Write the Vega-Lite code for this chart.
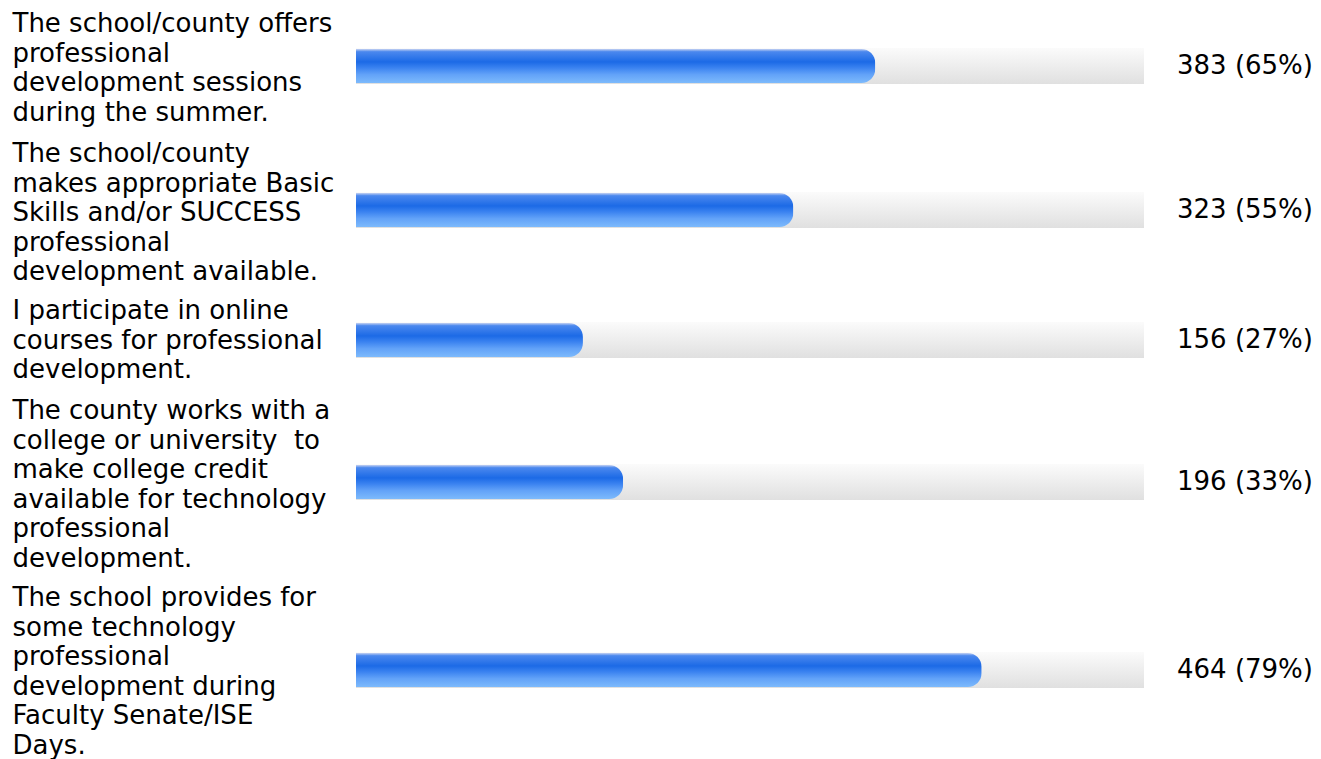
{
  "$schema": "https://vega.github.io/schema/vega-lite/v6.json",
  "padding": 0,
  "spacing": 0,
  "bounds": "flush",
  "background": "white",
  "config": {"view": {"stroke": null}, "concat": {"spacing": 0},
    "axisY": {"ticks": false, "domain": false, "labelAlign": "left", "labelBaseline": "middle", "labelPadding": 344, "minExtent": 356, "maxExtent": 356, "labelFont": "DejaVu Sans", "labelFontSize": 26, "labelColor": "#000", "labelLineHeight": 29.5, "labelLimit": 0}},
  "data": {"values": [
    {"id": 1, "label": "The school/county offers\nprofessional\ndevelopment sessions\nduring the summer.", "count": 383, "pct": 65, "bar": 65.9},
    {"id": 2, "label": "The school/county\nmakes appropriate Basic\nSkills and/or SUCCESS\nprofessional\ndevelopment available.", "count": 323, "pct": 55, "bar": 55.5},
    {"id": 3, "label": "I participate in online\ncourses for professional\ndevelopment.", "count": 156, "pct": 27, "bar": 28.8},
    {"id": 4, "label": "The county works with a\ncollege or university\u00a0 to\nmake college credit\navailable for technology\nprofessional\ndevelopment.", "count": 196, "pct": 33, "bar": 33.9},
    {"id": 5, "label": "The school provides for\nsome technology\nprofessional\ndevelopment during\nFaculty Senate/ISE\nDays.", "count": 464, "pct": 79, "bar": 79.4}
  ]},
  "transform": [{"calculate": "datum.count + ' (' + datum.pct + '%)'", "as": "text"}],
  "vconcat": [
    {"height": 132, "width": 788, "transform": [{"filter": "datum.id == 1"}],
     "encoding": {"y": {"field": "label", "type": "nominal", "title": null, "axis": {"labelOffset": -42, "labelExpr": "split(datum.label, '\\n')"}}},
     "layer": [
       {"mark": {"type": "bar", "size": 36, "color": {"gradient": "linear", "x1": 0, "y1": 0, "x2": 0, "y2": 1, "stops": [{"offset": 0, "color": "#fbfbfb"}, {"offset": 1, "color": "#e0e0e0"}]}}, "encoding": {"x": {"datum": 100, "type": "quantitative", "scale": {"domain": [0, 100]}, "axis": null}}},
       {"mark": {"type": "bar", "size": 34, "cornerRadiusEnd": 14, "color": {"gradient": "linear", "x1": 0, "y1": 0, "x2": 0, "y2": 1, "stops": [{"offset": 0, "color": "#c6d2f2"}, {"offset": 0.08, "color": "#4b88ee"}, {"offset": 0.38, "color": "#1c6ae6"}, {"offset": 0.55, "color": "#3a82f0"}, {"offset": 0.75, "color": "#62a2f8"}, {"offset": 1, "color": "#7dbafc"}]}}, "encoding": {"x": {"field": "bar", "type": "quantitative", "scale": {"domain": [0, 100]}, "axis": null}}},
       {"mark": {"type": "text", "align": "left", "baseline": "middle", "dx": 33, "font": "DejaVu Sans", "fontSize": 26, "color": "#000"}, "encoding": {"x": {"datum": 100, "type": "quantitative", "scale": {"domain": [0, 100]}}, "text": {"field": "text"}}}
     ]},
    {"height": 156, "width": 788, "transform": [{"filter": "datum.id == 2"}],
     "encoding": {"y": {"field": "label", "type": "nominal", "title": null, "axis": {"labelOffset": -56, "labelExpr": "split(datum.label, '\\n')"}}},
     "layer": [
       {"mark": {"type": "bar", "size": 36, "color": {"gradient": "linear", "x1": 0, "y1": 0, "x2": 0, "y2": 1, "stops": [{"offset": 0, "color": "#fbfbfb"}, {"offset": 1, "color": "#e0e0e0"}]}}, "encoding": {"x": {"datum": 100, "type": "quantitative", "scale": {"domain": [0, 100]}, "axis": null}}},
       {"mark": {"type": "bar", "size": 34, "cornerRadiusEnd": 14, "color": {"gradient": "linear", "x1": 0, "y1": 0, "x2": 0, "y2": 1, "stops": [{"offset": 0, "color": "#c6d2f2"}, {"offset": 0.08, "color": "#4b88ee"}, {"offset": 0.38, "color": "#1c6ae6"}, {"offset": 0.55, "color": "#3a82f0"}, {"offset": 0.75, "color": "#62a2f8"}, {"offset": 1, "color": "#7dbafc"}]}}, "encoding": {"x": {"field": "bar", "type": "quantitative", "scale": {"domain": [0, 100]}, "axis": null}}},
       {"mark": {"type": "text", "align": "left", "baseline": "middle", "dx": 33, "font": "DejaVu Sans", "fontSize": 26, "color": "#000"}, "encoding": {"x": {"datum": 100, "type": "quantitative", "scale": {"domain": [0, 100]}}, "text": {"field": "text"}}}
     ]},
    {"height": 104, "width": 788, "transform": [{"filter": "datum.id == 3"}],
     "encoding": {"y": {"field": "label", "type": "nominal", "title": null, "axis": {"labelOffset": -29, "labelExpr": "split(datum.label, '\\n')"}}},
     "layer": [
       {"mark": {"type": "bar", "size": 36, "color": {"gradient": "linear", "x1": 0, "y1": 0, "x2": 0, "y2": 1, "stops": [{"offset": 0, "color": "#fbfbfb"}, {"offset": 1, "color": "#e0e0e0"}]}}, "encoding": {"x": {"datum": 100, "type": "quantitative", "scale": {"domain": [0, 100]}, "axis": null}}},
       {"mark": {"type": "bar", "size": 34, "cornerRadiusEnd": 14, "color": {"gradient": "linear", "x1": 0, "y1": 0, "x2": 0, "y2": 1, "stops": [{"offset": 0, "color": "#c6d2f2"}, {"offset": 0.08, "color": "#4b88ee"}, {"offset": 0.38, "color": "#1c6ae6"}, {"offset": 0.55, "color": "#3a82f0"}, {"offset": 0.75, "color": "#62a2f8"}, {"offset": 1, "color": "#7dbafc"}]}}, "encoding": {"x": {"field": "bar", "type": "quantitative", "scale": {"domain": [0, 100]}, "axis": null}}},
       {"mark": {"type": "text", "align": "left", "baseline": "middle", "dx": 33, "font": "DejaVu Sans", "fontSize": 26, "color": "#000"}, "encoding": {"x": {"datum": 100, "type": "quantitative", "scale": {"domain": [0, 100]}}, "text": {"field": "text"}}}
     ]},
    {"height": 180, "width": 788, "transform": [{"filter": "datum.id == 4"}],
     "encoding": {"y": {"field": "label", "type": "nominal", "title": null, "axis": {"labelOffset": -71, "labelExpr": "split(datum.label, '\\n')"}}},
     "layer": [
       {"mark": {"type": "bar", "size": 36, "color": {"gradient": "linear", "x1": 0, "y1": 0, "x2": 0, "y2": 1, "stops": [{"offset": 0, "color": "#fbfbfb"}, {"offset": 1, "color": "#e0e0e0"}]}}, "encoding": {"x": {"datum": 100, "type": "quantitative", "scale": {"domain": [0, 100]}, "axis": null}}},
       {"mark": {"type": "bar", "size": 34, "cornerRadiusEnd": 14, "color": {"gradient": "linear", "x1": 0, "y1": 0, "x2": 0, "y2": 1, "stops": [{"offset": 0, "color": "#c6d2f2"}, {"offset": 0.08, "color": "#4b88ee"}, {"offset": 0.38, "color": "#1c6ae6"}, {"offset": 0.55, "color": "#3a82f0"}, {"offset": 0.75, "color": "#62a2f8"}, {"offset": 1, "color": "#7dbafc"}]}}, "encoding": {"x": {"field": "bar", "type": "quantitative", "scale": {"domain": [0, 100]}, "axis": null}}},
       {"mark": {"type": "text", "align": "left", "baseline": "middle", "dx": 33, "font": "DejaVu Sans", "fontSize": 26, "color": "#000"}, "encoding": {"x": {"datum": 100, "type": "quantitative", "scale": {"domain": [0, 100]}}, "text": {"field": "text"}}}
     ]},
    {"height": 196, "width": 788, "transform": [{"filter": "datum.id == 5"}],
     "encoding": {"y": {"field": "label", "type": "nominal", "title": null, "axis": {"labelOffset": -72, "labelExpr": "split(datum.label, '\\n')"}}},
     "layer": [
       {"mark": {"type": "bar", "size": 36, "color": {"gradient": "linear", "x1": 0, "y1": 0, "x2": 0, "y2": 1, "stops": [{"offset": 0, "color": "#fbfbfb"}, {"offset": 1, "color": "#e0e0e0"}]}}, "encoding": {"x": {"datum": 100, "type": "quantitative", "scale": {"domain": [0, 100]}, "axis": null}}},
       {"mark": {"type": "bar", "size": 34, "cornerRadiusEnd": 14, "color": {"gradient": "linear", "x1": 0, "y1": 0, "x2": 0, "y2": 1, "stops": [{"offset": 0, "color": "#c6d2f2"}, {"offset": 0.08, "color": "#4b88ee"}, {"offset": 0.38, "color": "#1c6ae6"}, {"offset": 0.55, "color": "#3a82f0"}, {"offset": 0.75, "color": "#62a2f8"}, {"offset": 1, "color": "#7dbafc"}]}}, "encoding": {"x": {"field": "bar", "type": "quantitative", "scale": {"domain": [0, 100]}, "axis": null}}},
       {"mark": {"type": "text", "align": "left", "baseline": "middle", "dx": 33, "font": "DejaVu Sans", "fontSize": 26, "color": "#000"}, "encoding": {"x": {"datum": 100, "type": "quantitative", "scale": {"domain": [0, 100]}}, "text": {"field": "text"}}}
     ]}
  ]
}
